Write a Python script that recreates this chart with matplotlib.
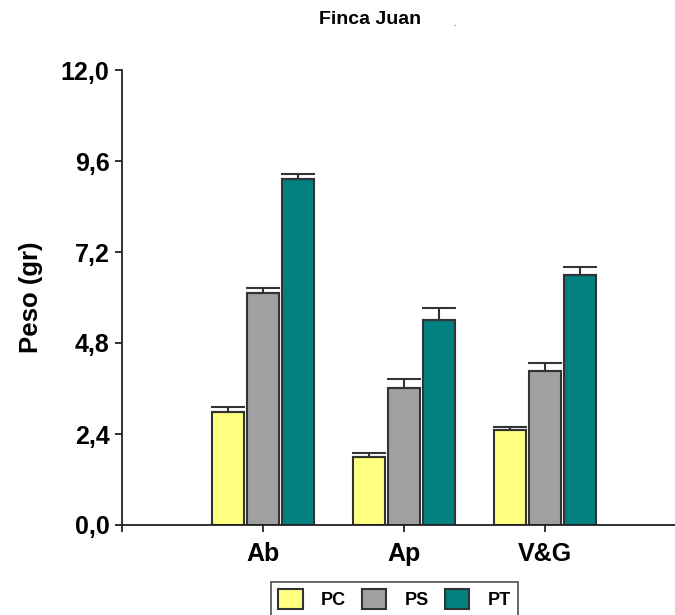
import matplotlib
matplotlib.use("Agg")
import matplotlib.pyplot as plt
import numpy as np
from matplotlib.ticker import FuncFormatter

categories = ["Ab", "Ap", "V&G"]
series = ["PC", "PS", "PT"]
pc_vals = [2.99, 1.79, 2.50]
ps_vals = [6.11, 3.62, 4.06]
pt_vals = [9.12, 5.41, 6.59]
pc_err = [0.12, 0.10, 0.09]
ps_err = [0.15, 0.22, 0.22]
pt_err = [0.15, 0.30, 0.22]
yticks = [0.0, 2.4, 4.8, 7.2, 9.6, 12.0]

colors = ["#FFFF80", "#A0A0A0", "#008080"]
edge = "#333333"

plt.rcParams['font.family'] = ['Liberation Sans', 'DejaVu Sans']
plt.rcParams['font.weight'] = 'bold'

fig = plt.figure(figsize=(6.75, 6.15), dpi=100)
ax = fig.add_axes([122/675, 1-525/615, 1-122/675, (525-70)/615])

x = np.arange(1, len(categories)+1)
width = 0.227
offset = 0.249
vals = [pc_vals, ps_vals, pt_vals]
errs = [pc_err, ps_err, pt_err]
for i, (v, e, c, s) in enumerate(zip(vals, errs, colors, series)):
    pos = x + (i-1)*offset
    ax.bar(pos, v, width, color=c, edgecolor=edge, linewidth=1.5, label=s, zorder=2)
    ax.errorbar(pos, v, yerr=[np.zeros(len(e)), e], fmt='none', ecolor=edge,
                elinewidth=1.5, capsize=12, capthick=1.5, zorder=3)

ax.set_xlim(0, 3.92)
ax.set_ylim(0, 12.0)
ax.set_yticks(yticks)
ax.yaxis.set_major_formatter(FuncFormatter(lambda v, p: f"{v:.1f}".replace('.', ',')))
ax.set_xticks([0] + list(x))
ax.set_xticklabels([''] + categories)
for sp in ['top', 'right']:
    ax.spines[sp].set_visible(False)
for sp in ['left', 'bottom']:
    ax.spines[sp].set_linewidth(1.3)
    ax.spines[sp].set_color('#222222')
ax.tick_params(axis='both', direction='out', length=5, width=1.3, color='#222222',
               labelsize=18)
ax.tick_params(axis='x', pad=7)
ax.tick_params(axis='y', pad=4)
ax.set_ylabel("Peso (gr)", fontsize=18.5, fontweight='bold', labelpad=13)

fig.text(370/675, 1-20/615, "Finca Juan", ha='center', va='center', fontsize=14, fontweight='bold')
fig.text(455/675, 1-24/615, ".", ha='center', va='center', fontsize=6, color='#555555')

leg = fig.legend(loc='upper left', bbox_to_anchor=(271/675, 1-582/615), ncol=3,
                 fontsize=13, handlelength=1.35, handleheight=1.35, handletextpad=1.0,
                 columnspacing=0.9, frameon=True, fancybox=False, borderpad=0.4,
                 borderaxespad=0)
leg.get_frame().set_edgecolor('#222222')
leg.get_frame().set_linewidth(1.2)

fig.savefig("out.png", dpi=100)
